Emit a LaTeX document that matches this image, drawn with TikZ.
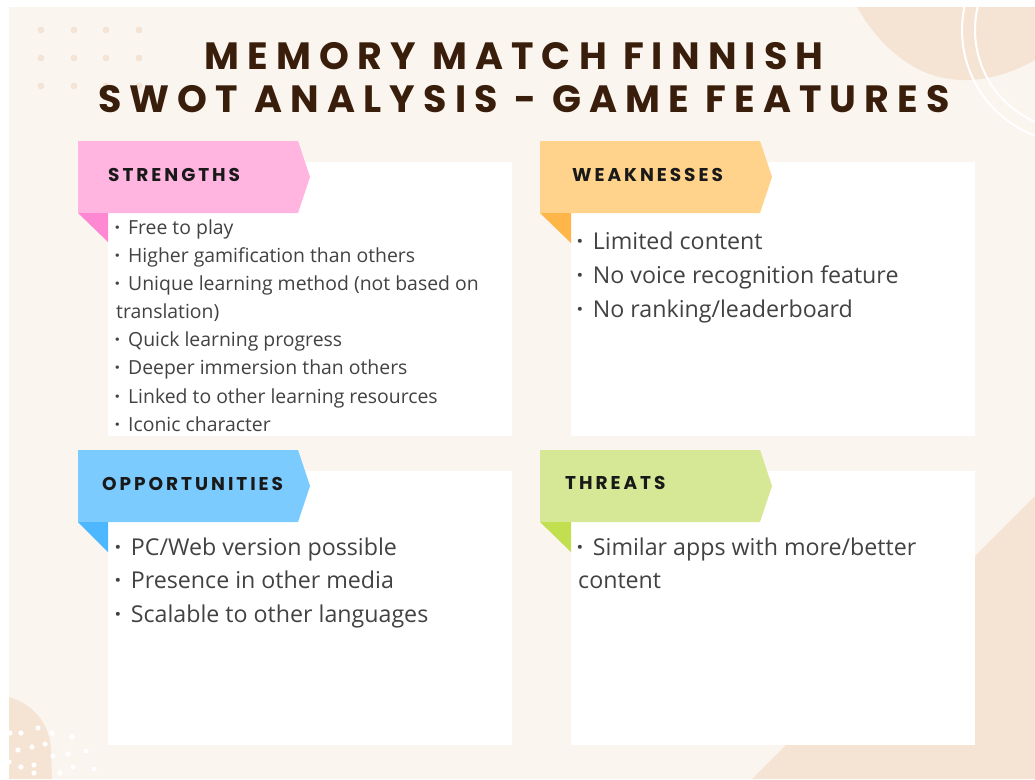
\documentclass[tikz,border=0pt]{standalone}
\usepackage{fontspec}
\setmainfont{Open Sans}
\newfontfamily\titlefont{Poppins}[LetterSpace=21.5]
\newfontfamily\labelfont{Poppins}[LetterSpace=16]
\definecolor{cream}{HTML}{FAF5EF}
\definecolor{peach}{HTML}{F5E4D4}
\definecolor{titlebrown}{HTML}{3A1E0C}
\definecolor{pinkR}{HTML}{FFB5E0}
\definecolor{pinkD}{HTML}{FF88D2}
\definecolor{orangeR}{HTML}{FFD38C}
\definecolor{orangeD}{HTML}{FFB648}
\definecolor{blueR}{HTML}{7CCBFF}
\definecolor{blueD}{HTML}{4DB8FF}
\definecolor{greenR}{HTML}{D6E896}
\definecolor{greenD}{HTML}{C2DF50}
\definecolor{bodygray}{HTML}{424242}
\tikzset{
  titletext/.style={anchor=base, inner sep=0pt, text=titlebrown, font=\titlefont\bfseries\fontsize{38}{40}\selectfont},
  labeltext/.style={anchor=base west, inner sep=0pt, text=black!90, font=\labelfont\bfseries\fontsize{18.5}{20}\selectfont},
  smalltext/.style={anchor=base west, inner sep=0pt, text=bodygray, font=\fontsize{19.4}{22}\selectfont},
  bigtext/.style={anchor=base west, inner sep=0pt, text=bodygray, font=\fontsize{23.2}{26}\selectfont},
  whitebox/.style={fill=white},
}
\newcommand{\bul}{\makebox[0.72em][l]{\kern0.02em\textbf{·}}}
\begin{document}
\begin{tikzpicture}[x=1pt,y=-1pt]
\useasboundingbox (0,0) rectangle (1035,779);
\fill[white] (0,0) rectangle (1035,779);
\fill[cream] (9,7) rectangle (1035,779);
% decorations
\fill[peach] (857,7) .. controls (870,30) and (890,55) .. (920,70) .. controls (945,82) and (985,88) .. (1035,60) -- (1035,7) -- cycle;
\draw[white, line width=2pt] (1075,30) circle (113);
\draw[white, line width=2pt] (1075,30) circle (100);
\fill[peach] (9,697) .. controls (35,705) and (50,725) .. (51,750) -- (52,779) -- (9,779) -- cycle;
\fill[peach] (752,779) -- (1035,496) -- (1035,779) -- cycle;
\foreach \x in {41,74,106,139} \foreach \y in {30,58,86} \fill[peach] (\x,\y) circle (3.4);
\foreach \p in {(10,733),(21,733),(38,728),(52,733),(72,737),(18,750),(32,747),(45,744),(53,756),(68,754),(86,751),(9,762),(21,767),(34,765),(34,773),(60,773),(73,767),(94,769)} \fill[white] \p circle (2.6);
% boxes
\fill[whitebox] (108,162) rectangle (512,436);
\fill[whitebox] (571,162) rectangle (975,436);
\fill[whitebox] (108,471) rectangle (512,745);
\fill[whitebox] (571,471) rectangle (975,745);
% ribbons
\fill[pinkR] (78,141) -- (298,141) -- (310,177) -- (298,213) -- (78,213) -- cycle;
\fill[pinkD] (78,213) -- (108,213) -- (108,242) -- cycle;
\fill[orangeR] (540,141) -- (760,141) -- (772,177) -- (760,213) -- (540,213) -- cycle;
\fill[orangeD] (540,213) -- (571,213) -- (571,243) -- cycle;
\fill[blueR] (78,450) -- (298,450) -- (310,486) -- (298,522) -- (78,522) -- cycle;
\fill[blueD] (78,522) -- (108,522) -- (108,552) -- cycle;
\fill[greenR] (540,450) -- (760,450) -- (772,486) -- (760,522) -- (540,522) -- cycle;
\fill[greenD] (540,522) -- (571,522) -- (571,552) -- cycle;
% title
\node[titletext] (t1) at (514,69) {MEMORY MATCH FINNISH};
\node[titletext] (t2) at (524,112) {SWOT ANALYSIS - GAME FEATURES};
% labels
\node[labeltext] (ls) at (108,181) {STRENGTHS};
\node[labeltext] (lw) at (572,181) {WEAKNESSES};
\node[labeltext] (lo) at (102,490) {OPPORTUNITIES};
\node[labeltext] (lt) at (565,489) {THREATS};
% strengths
\node[smalltext] (s1) at (114,234) {\bul Free to play};
\node[smalltext] (s2) at (114,262) {\bul Higher gamification than others};
\node[smalltext] (s3) at (114,290) {\bul Unique learning method (not based on};
\node[smalltext] (s4) at (116,318) {translation)};
\node[smalltext] (s5) at (114,346) {\bul Quick learning progress};
\node[smalltext] (s6) at (114,374) {\bul Deeper immersion than others};
\node[smalltext] (s7) at (114,403) {\bul Linked to other learning resources};
\node[smalltext] (s8) at (114,431) {\bul Iconic character};
% weaknesses
\node[bigtext] (w1) at (576,249) {\bul Limited content};
\node[bigtext] (w2) at (576,283) {\bul No voice recognition feature};
\node[bigtext] (w3) at (576,317) {\bul No ranking/leaderboard};
% opportunities
\node[bigtext] (o1) at (114,555) {\bul PC/Web version possible};
\node[bigtext] (o2) at (114,588) {\bul Presence in other media};
\node[bigtext] (o3) at (114,622) {\bul Scalable to other languages};
% threats
\node[bigtext] (h1) at (576,555) {\bul Similar apps with more/better};
\node[bigtext] (h2) at (578,588) {content};
\end{tikzpicture}
\end{document}
